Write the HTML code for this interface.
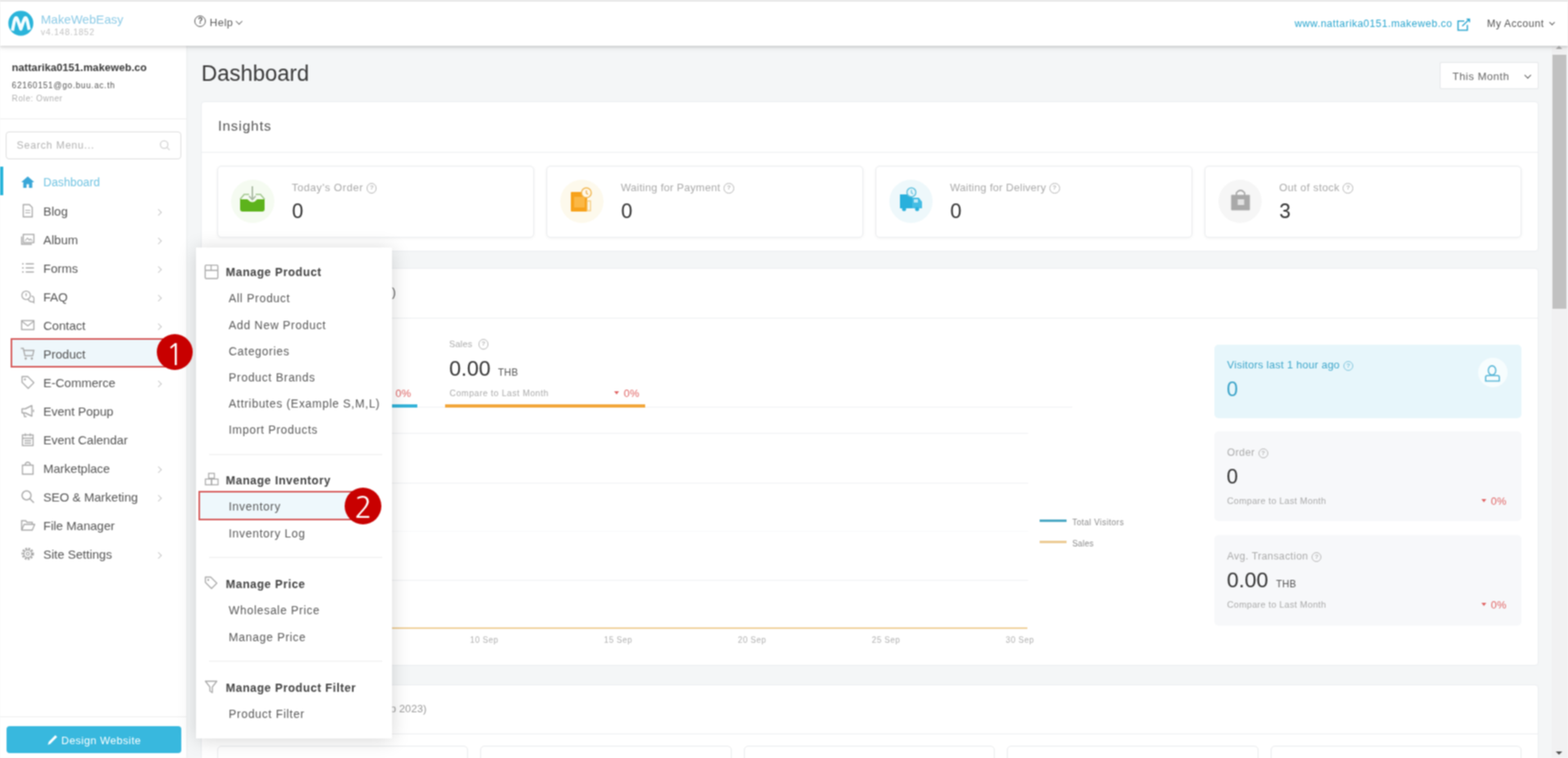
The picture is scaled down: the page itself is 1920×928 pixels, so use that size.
<!DOCTYPE html>
<html><head><meta charset="utf-8">
<style>
*{box-sizing:border-box;margin:0;padding:0}
html,body{width:1920px;height:928px;overflow:hidden;background:#f4f6f7;font-family:"Liberation Sans",Arial,sans-serif;color:#555}
.a{position:absolute}
.t{position:absolute;white-space:nowrap;line-height:1}
svg{position:absolute;overflow:visible}
#hdr{left:0;top:0;width:1920px;height:56px;background:#fff;border-top:2px solid #e6e6e6;box-shadow:0 2px 3px rgba(0,0,0,.13),0 3px 8px rgba(0,0,0,.06);z-index:5}
#side{left:0;top:56px;width:228px;height:872px;background:#fff;box-shadow:1px 0 2px rgba(0,0,0,.04);z-index:3}
.lb{position:absolute;left:53px;font-size:15px;color:#555;line-height:1;white-space:nowrap}
.ch{position:absolute;left:191px;width:6px;height:6px;border-right:1.2px solid #c8c8c8;border-top:1.2px solid #c8c8c8;transform:rotate(45deg)}
.card{position:absolute;background:#fff;border:1px solid #eaedf0;border-radius:4px}
.sc{position:absolute;top:203px;width:388px;height:87.5px;background:#fff;border:1px solid #eaecee;border-radius:5px;box-shadow:0 1px 4px rgba(0,0,0,.05)}
.sc .circ{position:absolute;left:16px;top:16px;width:53px;height:53px;border-radius:50%}
.sc .lbl{position:absolute;left:90.2px;top:18.6px;font-size:13px;color:#a9a9a9;white-space:nowrap;line-height:1;letter-spacing:.28px}
.sc .val{position:absolute;left:90.5px;top:42px;font-size:25px;color:#333;line-height:1}
.h{position:absolute;left:276.5px;font-size:14px;font-weight:bold;color:#444;white-space:nowrap;line-height:1;letter-spacing:.6px}
.i{position:absolute;left:280px;font-size:14px;color:#5a5a5a;white-space:nowrap;line-height:1;letter-spacing:.7px}
.dv{position:absolute;left:256px;width:212px;height:1px;background:#ececec}
.q{display:inline-block;width:12.5px;height:12.5px;border:1.2px solid #b5b5b5;border-radius:50%;vertical-align:1.5px;margin-left:4px;font-size:8px;text-align:center;line-height:9px;color:#b5b5b5;letter-spacing:0;font-weight:bold}
.sm{font-size:11px;color:#aaa;letter-spacing:.3px}
.red{color:#e06464}
.gl{position:absolute;height:1px;background:#eef0f2}
.rc{position:absolute;left:1487px;width:376px;border-radius:5px}
</style></head>
<body><svg width="0" height="0" style="position:absolute"><filter id="sb" x="0" y="0" width="100%" height="100%" color-interpolation-filters="sRGB"><feConvolveMatrix order="3" kernelMatrix="1 2 1 2 4 2 1 2 1" divisor="16" edgeMode="duplicate"/></filter></svg>
<div id="root" style="position:absolute;left:0;top:0;width:1920px;height:928px;filter:url(#sb);background:#f4f6f7">
<!-- HEADER -->
<div id="hdr" class="a">
  <svg style="left:9.5px;top:10.5px" width="31" height="31" viewBox="0 0 31 31">
    <circle cx="15.5" cy="15.5" r="15.3" fill="#2ab4da"/>
    <path d="M5.2 24.5 L7.6 12.5 Q9.8 5 12 12.5 L15.5 22.5 L19 12.5 Q21.2 5 23.4 12.5 L25.8 23.5" fill="none" stroke="#f4fdff" stroke-width="4" stroke-linejoin="round"/>
  </svg>
  <div class="t" style="left:50px;top:14.3px;font-size:15px;color:#8dcbe6;letter-spacing:.05px">MakeWebEasy</div>
  <div class="t" style="left:50px;top:32.4px;font-size:10.5px;color:#c2c2c2;letter-spacing:.75px">v4.148.1852</div>
  <div class="a" style="left:238.3px;top:16.8px;width:14.2px;height:14.2px;border:1.6px solid #555;border-radius:50%;font-size:10px;font-weight:bold;color:#555;text-align:center;line-height:12px">?</div>
  <div class="t" style="left:256.7px;top:19.4px;font-size:13px;color:#5a5a5a;letter-spacing:.55px">Help</div>
  <div class="a" style="left:289.5px;top:20.6px;width:5.5px;height:5.5px;border-right:1.8px solid #555;border-bottom:1.8px solid #555;transform:rotate(45deg)"></div>
  <div class="t" style="left:1585.3px;top:21.3px;font-size:12.5px;color:#2ba6cf;letter-spacing:.5px">www.nattarika0151.makeweb.co</div>
  <svg style="left:1784px;top:20.4px" width="17" height="16" viewBox="0 0 17 16"><path d="M9 3.8H1.4v11.2h11.3V8.5" fill="none" stroke="#2ba6cf" stroke-width="1.6"/><path d="M6.5 10L14.8 2M11.8 1.6h3.6v3.6" fill="none" stroke="#2ba6cf" stroke-width="1.5"/></svg>
  <div class="t" style="left:1820.7px;top:20.8px;font-size:12.5px;color:#555;letter-spacing:.55px">My Account</div>
  <div class="a" style="left:1898px;top:22.5px;width:5px;height:5px;border-right:1.5px solid #555;border-bottom:1.5px solid #555;transform:rotate(45deg)"></div>
</div>

<!-- SIDEBAR -->
<div id="side" class="a"></div>
<div class="t" style="left:14.6px;top:76.1px;font-size:13px;color:#3a3a3a;font-weight:bold;letter-spacing:.05px;z-index:4">nattarika0151.makeweb.co</div>
<div class="t" style="left:14.6px;top:99.7px;font-size:10px;color:#555;letter-spacing:.8px;z-index:4">62160151@go.buu.ac.th</div>
<div class="t" style="left:14.6px;top:115.8px;font-size:10px;color:#b0b0b0;letter-spacing:.6px;z-index:4">Role: Owner</div>
<div class="a" style="left:0;top:145px;width:228px;height:1px;background:#ededed;z-index:4"></div>
<div class="a" style="left:7px;top:161.2px;width:214.8px;height:34px;border:1px solid #dcdcdc;border-radius:4px;z-index:4"></div>
<div class="t" style="left:20.4px;top:172.3px;font-size:12.5px;color:#b3b3b3;letter-spacing:.75px;z-index:4">Search Menu...</div>
<svg style="left:195px;top:171px;z-index:4" width="14" height="14" viewBox="0 0 14 14"><circle cx="6" cy="6" r="4.6" fill="none" stroke="#d0d0d0" stroke-width="1.3"/><path d="M9.4 9.4L12.6 12.6" stroke="#d0d0d0" stroke-width="1.3"/></svg>
<div class="a" style="left:0;top:204px;width:4px;height:35px;background:#2ab4da;z-index:4"></div>
<div class="a" style="left:13px;top:414px;width:215px;height:36px;background:#eef7fb;z-index:4"></div>
<div id="menu" style="position:absolute;left:0;top:0;z-index:4">
<div class="lb" style="top:216.0px;color:#72c4e2;font-size:14px;letter-spacing:.1px">Dashboard</div>
<svg style="left:25px;top:214.2px" width="18" height="18" viewBox="0 0 18 18"><path d="M9 2 L1 9 H3.5 V16 H7.5 V11.5 H10.5 V16 H14.5 V9 H17Z" fill="#3aa7d8"/></svg>
<div class="lb" style="top:251.0px">Blog</div>
<svg style="left:25px;top:249.2px" width="18" height="18" viewBox="0 0 18 18"><path d="M3.5 1.5 H11 L14.5 5 V16.5 H3.5Z" fill="none" stroke="#a8a8a8" stroke-width="1.4"/><path d="M6 8.5 H12 M6 11.5 H12" stroke="#a8a8a8" stroke-width="1.2"/></svg>
<div class="ch" style="top:256.7px"></div>
<div class="lb" style="top:286.0px">Album</div>
<svg style="left:25px;top:284.2px" width="18" height="18" viewBox="0 0 18 18"><rect x="3.5" y="3" width="13" height="10" fill="none" stroke="#a8a8a8" stroke-width="1.4"/><path d="M1.5 5.5 V15 H14" fill="none" stroke="#a8a8a8" stroke-width="1.4"/><path d="M5.5 11 L8.5 7.5 L11 10 L12.5 8.5 L14.5 11" fill="none" stroke="#a8a8a8" stroke-width="1.1"/></svg>
<div class="ch" style="top:291.7px"></div>
<div class="lb" style="top:321.0px">Forms</div>
<svg style="left:25px;top:319.2px" width="18" height="18" viewBox="0 0 18 18"><path d="M2 4 H4 M2 9 H4 M2 14 H4 M6.5 4 H16.5 M6.5 9 H16.5 M6.5 14 H16.5" stroke="#a8a8a8" stroke-width="1.4"/></svg>
<div class="ch" style="top:326.7px"></div>
<div class="lb" style="top:356.0px">FAQ</div>
<svg style="left:25px;top:354.2px" width="18" height="18" viewBox="0 0 18 18"><circle cx="7" cy="7.5" r="5.2" fill="none" stroke="#a8a8a8" stroke-width="1.3"/><path d="M9.5 12.5 Q11 16 15.5 15.5 L16.5 16.5 V12 Q17 9 13.5 8.5" fill="none" stroke="#a8a8a8" stroke-width="1.3"/><path d="M7 5 V8.5" stroke="#a8a8a8" stroke-width="1.3"/></svg>
<div class="ch" style="top:361.7px"></div>
<div class="lb" style="top:391.0px">Contact</div>
<svg style="left:25px;top:389.2px" width="18" height="18" viewBox="0 0 18 18"><rect x="1.5" y="3.5" width="15" height="11" fill="none" stroke="#a8a8a8" stroke-width="1.4"/><path d="M2 4.5 L9 10 L16 4.5" fill="none" stroke="#a8a8a8" stroke-width="1.3"/></svg>
<div class="ch" style="top:396.7px"></div>
<div class="lb" style="top:426.0px">Product</div>
<svg style="left:25px;top:424.2px" width="18" height="18" viewBox="0 0 18 18"><path d="M0.5 2.5 H3.5 L5.5 11.5 H15 L16.5 5 H4.5" fill="none" stroke="#a8a8a8" stroke-width="1.4"/><circle cx="6.5" cy="15" r="1.4" fill="#a8a8a8"/><circle cx="14" cy="15" r="1.4" fill="#a8a8a8"/></svg>
<div class="ch" style="top:431.7px"></div>
<div class="lb" style="top:461.0px">E-Commerce</div>
<svg style="left:25px;top:459.2px" width="18" height="18" viewBox="0 0 18 18"><path d="M2 2 H9 L16.5 9.5 L9.5 16.5 L2 9Z" fill="none" stroke="#a8a8a8" stroke-width="1.4" stroke-linejoin="round"/><circle cx="5.5" cy="5.5" r="1.2" fill="#a8a8a8"/></svg>
<div class="ch" style="top:466.7px"></div>
<div class="lb" style="top:496.0px">Event Popup</div>
<svg style="left:25px;top:494.2px" width="18" height="18" viewBox="0 0 18 18"><path d="M2 6.5 H6 L14 2.5 V15.5 L6 11.5 H2Z" fill="none" stroke="#a8a8a8" stroke-width="1.4" stroke-linejoin="round"/><path d="M4 11.5 L5 16 H7.5" fill="none" stroke="#a8a8a8" stroke-width="1.3"/><path d="M16 7.5 V10.5" stroke="#a8a8a8" stroke-width="1.4"/></svg>
<div class="lb" style="top:531.0px">Event Calendar</div>
<svg style="left:25px;top:529.2px" width="18" height="18" viewBox="0 0 18 18"><rect x="2.5" y="3.5" width="13" height="13" fill="none" stroke="#a8a8a8" stroke-width="1.4"/><path d="M2.5 7.5 H15.5 M6 1.5 V5 M12 1.5 V5 M5 10.5 H13 M5 13.5 H13" stroke="#a8a8a8" stroke-width="1.3"/></svg>
<div class="lb" style="top:566.0px">Marketplace</div>
<svg style="left:25px;top:564.2px" width="18" height="18" viewBox="0 0 18 18"><path d="M2.5 5.5 H15.5 V16.5 H2.5Z" fill="none" stroke="#a8a8a8" stroke-width="1.4"/><path d="M6 5.5 V3.5 Q9 0 12 3.5 V5.5" fill="none" stroke="#a8a8a8" stroke-width="1.3"/></svg>
<div class="ch" style="top:571.7px"></div>
<div class="lb" style="top:601.0px">SEO &amp; Marketing</div>
<svg style="left:25px;top:599.2px" width="18" height="18" viewBox="0 0 18 18"><circle cx="7.5" cy="7.5" r="5.5" fill="none" stroke="#a8a8a8" stroke-width="1.5"/><path d="M11.5 11.5 L16.5 16.5" stroke="#a8a8a8" stroke-width="1.6"/></svg>
<div class="ch" style="top:606.7px"></div>
<div class="lb" style="top:636.0px">File Manager</div>
<svg style="left:25px;top:634.2px" width="18" height="18" viewBox="0 0 18 18"><path d="M1.5 15 V3.5 H6.5 L8 5.5 H14.5 V8" fill="none" stroke="#a8a8a8" stroke-width="1.4"/><path d="M1.5 15 L4.5 8 H17.5 L14.5 15Z" fill="none" stroke="#a8a8a8" stroke-width="1.4" stroke-linejoin="round"/></svg>
<div class="lb" style="top:671.0px">Site Settings</div>
<svg style="left:25px;top:669.2px" width="18" height="18" viewBox="0 0 18 18"><circle cx="9" cy="9" r="6.3" fill="none" stroke="#a8a8a8" stroke-width="2.6" stroke-dasharray="2.2 1.5"/><circle cx="9" cy="9" r="4.6" fill="none" stroke="#a8a8a8" stroke-width="1.2"/><circle cx="9" cy="9" r="1.8" fill="none" stroke="#a8a8a8" stroke-width="1.2"/></svg>
<div class="ch" style="top:676.7px"></div>
</div>
<div class="a" style="left:0;top:877px;width:228px;height:1px;background:#ededed;z-index:4"></div>
<div class="a" style="left:7.5px;top:889px;width:214.5px;height:33px;background:#38b8de;border-radius:4px;z-index:4"></div>
<svg style="left:57px;top:898px;z-index:4" width="15" height="15" viewBox="0 0 15 15"><path d="M1.5 14L2.8 10L10.8 2L13 4.2L5 12.2Z" fill="#fff"/></svg>
<div class="t" style="left:75px;top:900px;font-size:13px;color:#fff;letter-spacing:.5px;z-index:4">Design Website</div>

<!-- MAIN -->
<div class="t" style="left:246.5px;top:76.9px;font-size:27px;color:#3a3a3a">Dashboard</div>
<div class="a" style="left:1762.5px;top:75.5px;width:121px;height:33px;background:#fff;border:1px solid #e6e8ea;border-radius:2px;box-shadow:0 0 2px rgba(0,0,0,.04)"></div>
<div class="t" style="left:1778.5px;top:86.5px;font-size:13px;color:#666;letter-spacing:.55px">This Month</div>
<div class="a" style="left:1868px;top:88.5px;width:5.5px;height:5.5px;border-right:1.8px solid #333;border-bottom:1.8px solid #333;transform:rotate(45deg)"></div>

<div class="card" style="left:245.5px;top:124px;width:1638px;height:184px"></div>
<div class="t" style="left:266.9px;top:145.6px;font-size:17px;color:#555;letter-spacing:.9px">Insights</div>
<div class="a" style="left:247px;top:186px;width:1636px;height:1px;background:#eceef0"></div>

<div class="sc" style="left:266px"><div class="circ" style="background:#f5fbf1"></div><div class="lbl" style="letter-spacing:.55px">Today's Order<span class="q">?</span></div><div class="val">0</div></div>
<div class="sc" style="left:669px"><div class="circ" style="background:#fdf9ec"></div><div class="lbl">Waiting for Payment<span class="q">?</span></div><div class="val">0</div></div>
<div class="sc" style="left:1072px"><div class="circ" style="background:#eef8fb"></div><div class="lbl">Waiting for Delivery<span class="q">?</span></div><div class="val">0</div></div>
<div class="sc" style="left:1475px"><div class="circ" style="background:#f6f6f6"></div><div class="lbl" style="letter-spacing:.4px">Out of stock<span class="q">?</span></div><div class="val">3</div></div>

<!-- stat icons -->
<svg style="left:293px;top:227px" width="32" height="33" viewBox="0 0 32 33">
  <path d="M1 17 L6 11 H12 M20 11 H26 L31 17" fill="none" stroke="#9fc58a" stroke-width="1.6"/>
  <path d="M1 17 H10 Q16 24 22 17 H31 V29 Q31 32 28 32 H4 Q1 32 1 29Z" fill="#5db31c"/>
  <path d="M16 1 V17" stroke="#a7b7a0" stroke-width="1.8"/>
  <path d="M12 13 L16 17.5 L20 13" fill="none" stroke="#a7b7a0" stroke-width="1.8"/>
</svg>
<svg style="left:698px;top:229px" width="28" height="31" viewBox="0 0 28 31">
  <rect x="1" y="6" width="20" height="24" rx="1" fill="#f7a21b"/>
  <rect x="5" y="12" width="13" height="13" fill="#fbb846"/>
  <rect x="21" y="17" width="4" height="12" fill="none" stroke="#f5c877" stroke-width="1.3"/>
  <circle cx="20" cy="7" r="6" fill="#fff8e8" stroke="#f1b650" stroke-width="1.5"/>
  <path d="M20 4 V7.5 L22 9" fill="none" stroke="#e9a540" stroke-width="1.2"/>
</svg>
<svg style="left:1101px;top:229px" width="30" height="30" viewBox="0 0 30 30">
  <path d="M1 9 H16 V26 H1Z" fill="#29b0dc"/>
  <path d="M16 13 H24 L28 18 V26 H16Z" fill="#45bde4"/>
  <rect x="18" y="15" width="5" height="4" fill="#bfe9f7"/>
  <circle cx="6" cy="27" r="2.5" fill="#29b0dc"/><circle cx="22" cy="27" r="2.5" fill="#29b0dc"/>
  <circle cx="15" cy="6.5" r="5.5" fill="#e6f6fb" stroke="#5fbfdc" stroke-width="1.5"/>
  <path d="M15 3.5 V7 L17 8.5" fill="none" stroke="#5fbfdc" stroke-width="1.2"/>
</svg>
<svg style="left:1507px;top:231px" width="24" height="27" viewBox="0 0 24 27">
  <path d="M7 8 V5 Q12 -1 17 5 V8" fill="none" stroke="#a9a9a9" stroke-width="1.8"/>
  <rect x="0.5" y="7.5" width="23" height="19" rx="1" fill="#a9a9a9"/>
  <rect x="8.5" y="13" width="8" height="7" fill="#e2e2e2"/>
</svg>

<!-- second card -->
<div class="card" style="left:246px;top:328px;width:1638px;height:487px"></div>
<div class="t" style="left:0;width:484.6px;text-align:right;top:351px;font-size:14px;color:#555">Overview (Sep 2023)</div>
<div class="a" style="left:247px;top:389px;width:1636px;height:1px;background:#eceef0"></div>

<div class="t red" style="left:484.2px;top:474.5px;font-size:13px;letter-spacing:.3px">0%</div>
<div class="a" style="left:290px;top:495px;width:221px;height:4px;background:#34b3d9"></div>
<div class="t" style="left:550px;top:415px;font-size:11px;color:#aaa;letter-spacing:.2px">Sales <span class="q">?</span></div>
<div class="t" style="left:550px;top:437.5px;font-size:26px;color:#333">0.00</div><div class="t" style="left:609.8px;top:450px;font-size:12px;color:#555;letter-spacing:.2px">THB</div>
<div class="t sm" style="left:550.6px;top:475.5px;font-size:10.5px;letter-spacing:.55px">Compare to Last Month</div>
<div class="a" style="left:752.2px;top:478.5px;width:0;height:0;border-left:3.8px solid transparent;border-right:3.8px solid transparent;border-top:4.2px solid #e06464"></div><div class="t red" style="left:763.8px;top:474.5px;font-size:13px;letter-spacing:.3px">0%</div>
<div class="a" style="left:545px;top:495px;width:245px;height:4px;background:#f2a63a"></div>
<div class="gl" style="left:511px;top:498px;width:34px"></div>
<div class="gl" style="left:790px;top:498px;width:523px"></div>

<!-- chart -->
<div class="gl" style="left:266px;top:530px;width:993px"></div>
<div class="gl" style="left:266px;top:591px;width:993px"></div>
<div class="gl" style="left:266px;top:650px;width:993px;background:#f8f9fa"></div>
<div class="gl" style="left:266px;top:710px;width:993px"></div>
<div class="a" style="left:266px;top:767.5px;width:992px;height:2.5px;background:#efcf98"></div>
<div class="t" style="left:575.6px;top:779px;font-size:10px;color:#b0b0b0;letter-spacing:.5px">10 Sep</div>
<div class="t" style="left:739.6px;top:779px;font-size:10px;color:#b0b0b0;letter-spacing:.5px">15 Sep</div>
<div class="t" style="left:903.6px;top:779px;font-size:10px;color:#b0b0b0;letter-spacing:.5px">20 Sep</div>
<div class="t" style="left:1067.6px;top:779px;font-size:10px;color:#b0b0b0;letter-spacing:.5px">25 Sep</div>
<div class="t" style="left:1231.6px;top:779px;font-size:10px;color:#b0b0b0;letter-spacing:.5px">30 Sep</div>
<div class="a" style="left:1273px;top:636px;width:33px;height:2.5px;background:#4ba8c4"></div>
<div class="t" style="left:1312.9px;top:634.5px;font-size:10px;color:#888;letter-spacing:.5px">Total Visitors</div>
<div class="a" style="left:1273px;top:661.5px;width:33px;height:3.5px;background:#eccb94"></div>
<div class="t" style="left:1312.9px;top:660.5px;font-size:10px;color:#888;letter-spacing:.3px">Sales</div>

<!-- right column -->
<div class="rc" style="top:422px;height:90px;background:#e7f6fb"></div>
<div class="t" style="left:1502.6px;top:440.2px;font-size:13px;color:#3ea6ca;letter-spacing:.25px">Visitors last 1 hour ago<span class="q" style="border-color:#7cc3dc;color:#7cc3dc">?</span></div>
<div class="t" style="left:1502px;top:464px;font-size:25px;color:#3aa3c8">0</div>
<div class="a" style="left:1809.5px;top:437.5px;width:36.5px;height:36.5px;border-radius:50%;background:#f7fdfe"></div>
<svg style="left:1817.5px;top:445px" width="19" height="23" viewBox="0 0 19 23"><ellipse cx="9" cy="8.5" rx="4.6" ry="5.6" fill="none" stroke="#55b5d6" stroke-width="1.6"/><path d="M1.2 21.5 V16.8 Q1.2 14.8 3.2 14.8 H15.8 Q17.8 14.8 17.8 16.8 V21.5Z" fill="none" stroke="#55b5d6" stroke-width="1.6"/></svg>

<div class="rc" style="top:528px;height:110px;background:#f7f8fa"></div>
<div class="t" style="left:1502.6px;top:548px;font-size:12.5px;color:#aaa;letter-spacing:.4px">Order<span class="q">?</span></div>
<div class="t" style="left:1502px;top:571px;font-size:25px;color:#333">0</div>
<div class="t sm" style="left:1502.6px;top:607.9px">Compare to Last Month</div>
<div class="a" style="left:1814px;top:611.2px;width:0;height:0;border-left:3.8px solid transparent;border-right:3.8px solid transparent;border-top:4.2px solid #e06464"></div><div class="t red" style="left:1825.6px;top:607px;font-size:13px;letter-spacing:.3px">0%</div>

<div class="rc" style="top:655px;height:111px;background:#f7f8fa"></div>
<div class="t" style="left:1502.6px;top:675px;font-size:12.5px;color:#aaa;letter-spacing:.4px">Avg. Transaction<span class="q">?</span></div>
<div class="t" style="left:1502.3px;top:696.5px;font-size:26px;color:#333">0.00</div><div class="t" style="left:1562.5px;top:709px;font-size:12px;color:#555;letter-spacing:.2px">THB</div>
<div class="t sm" style="left:1502.6px;top:734.9px">Compare to Last Month</div>
<div class="a" style="left:1814px;top:738.2px;width:0;height:0;border-left:3.8px solid transparent;border-right:3.8px solid transparent;border-top:4.2px solid #e06464"></div><div class="t red" style="left:1825.6px;top:734px;font-size:13px;letter-spacing:.3px">0%</div>

<!-- third card -->
<div class="card" style="left:246px;top:838px;width:1638px;height:120px"></div>
<div class="t" style="left:0;width:522.5px;text-align:right;top:860.8px;font-size:13px;color:#9a9a9a;letter-spacing:.1px">Best Selling Products (1 Sep - 30 Sep 2023)</div>
<div class="a" style="left:247px;top:898px;width:1636px;height:1px;background:#eceef0"></div>
<div class="a" style="left:266px;top:912.8px;width:307px;height:30px;border:1px solid #e8eaec;border-radius:5px"></div>
<div class="a" style="left:588px;top:912.8px;width:308px;height:30px;border:1px solid #e8eaec;border-radius:5px"></div>
<div class="a" style="left:911px;top:912.8px;width:307px;height:30px;border:1px solid #e8eaec;border-radius:5px"></div>
<div class="a" style="left:1233px;top:912.8px;width:308px;height:30px;border:1px solid #e8eaec;border-radius:5px"></div>
<div class="a" style="left:1556px;top:912.8px;width:307px;height:30px;border:1px solid #e8eaec;border-radius:5px"></div>

<!-- scrollbar -->
<div class="a" style="left:1899.5px;top:57px;width:20.5px;height:871px;background:#f1f1f2"></div>
<div class="a" style="left:1901.4px;top:67px;width:16.5px;height:311.4px;background:#c1c1c1"></div>
<div class="a" style="left:1905px;top:56px;width:0;height:0;border-left:4px solid transparent;border-right:4px solid transparent;border-bottom:4px solid #a3a3a3;z-index:6"></div>
<div class="a" style="left:1905px;top:919.5px;width:0;height:0;border-left:4.5px solid transparent;border-right:4.5px solid transparent;border-top:4.5px solid #505050"></div>

<!-- POPOVER -->
<div class="a" style="left:240px;top:302.5px;width:240px;height:601px;background:#fff;box-shadow:0 2px 22px rgba(0,0,0,.16);z-index:6"></div>
<div id="pop" style="position:absolute;left:0;top:0;z-index:7">
<div class="a" style="left:243px;top:601px;width:200px;height:36px;background:#eef8fc"></div>
<svg style="left:249.5px;top:323.1px" width="18" height="18" viewBox="0 0 18 18"><rect x="1.3" y="1.6" width="15.4" height="16.4" rx="1" fill="none" stroke="#a9a9a9" stroke-width="1.4"/><path d="M1.3 8 H16.7 M8.5 1.6 V8" stroke="#a9a9a9" stroke-width="1.3"/></svg>
<div class="h" style="top:326.2px">Manage Product</div>
<div class="i" style="top:358.4px">All Product</div>
<div class="i" style="top:390.6px">Add New Product</div>
<div class="i" style="top:422.8px">Categories</div>
<div class="i" style="top:455.0px">Product Brands</div>
<div class="i" style="top:487.2px">Attributes (Example S,M,L)</div>
<div class="i" style="top:519.4px">Import Products</div>
<div class="dv" style="top:556.1px"></div>
<svg style="left:249.5px;top:578.1px" width="18" height="18" viewBox="0 0 18 18"><rect x="5.5" y="1.5" width="7" height="6" fill="none" stroke="#a9a9a9" stroke-width="1.3"/><rect x="1.5" y="8.5" width="7.5" height="7" fill="none" stroke="#a9a9a9" stroke-width="1.3"/><rect x="9" y="8.5" width="8" height="7" fill="none" stroke="#a9a9a9" stroke-width="1.3"/></svg>
<div class="h" style="top:581.2px">Manage Inventory</div>
<div class="i" style="top:613.4px">Inventory</div>
<div class="i" style="top:645.6px">Inventory Log</div>
<div class="dv" style="top:682.3px"></div>
<svg style="left:249.5px;top:705.1px" width="18" height="18" viewBox="0 0 18 18"><path d="M1.5 1.5 H8 L15.5 9 L9 15.5 L1.5 8Z" fill="none" stroke="#a9a9a9" stroke-width="1.4" stroke-linejoin="round"/><circle cx="5" cy="5" r="1.2" fill="#a9a9a9"/></svg>
<div class="h" style="top:708.2px">Manage Price</div>
<div class="i" style="top:740.4px">Wholesale Price</div>
<div class="i" style="top:772.6px">Manage Price</div>
<div class="dv" style="top:809.3px"></div>
<svg style="left:249.5px;top:832.1px" width="18" height="18" viewBox="0 0 18 18"><path d="M1.5 2 H15.5 L10 9 V16 L7 14 V9Z" fill="none" stroke="#a9a9a9" stroke-width="1.4" stroke-linejoin="round"/></svg>
<div class="h" style="top:835.2px">Manage Product Filter</div>
<div class="i" style="top:867.4px">Product Filter</div>
</div>

<!-- annotations -->
<div class="a" style="left:13px;top:414px;width:200px;height:36px;border:2px solid #d55a5a;z-index:9"></div>
<div class="a" style="left:192px;top:409px;width:44px;height:44px;border-radius:50%;background:#c80000;z-index:10"></div><div class="t" style="left:203.5px;top:416.5px;z-index:11;color:#fff;font-family:NanumGothic,'Liberation Sans',sans-serif;font-size:35px">1</div>
<div class="a" style="left:243px;top:601px;width:200px;height:36px;border:2px solid #d55a5a;z-index:9"></div>
<div class="a" style="left:422.3px;top:596.5px;width:45px;height:45px;border-radius:50%;background:#c80000;z-index:10"></div><div class="t" style="left:434.3px;top:603.5px;z-index:11;color:#fff;font-family:NanumGothic,'Liberation Sans',sans-serif;font-size:35px">2</div>
</div>
</body></html>
